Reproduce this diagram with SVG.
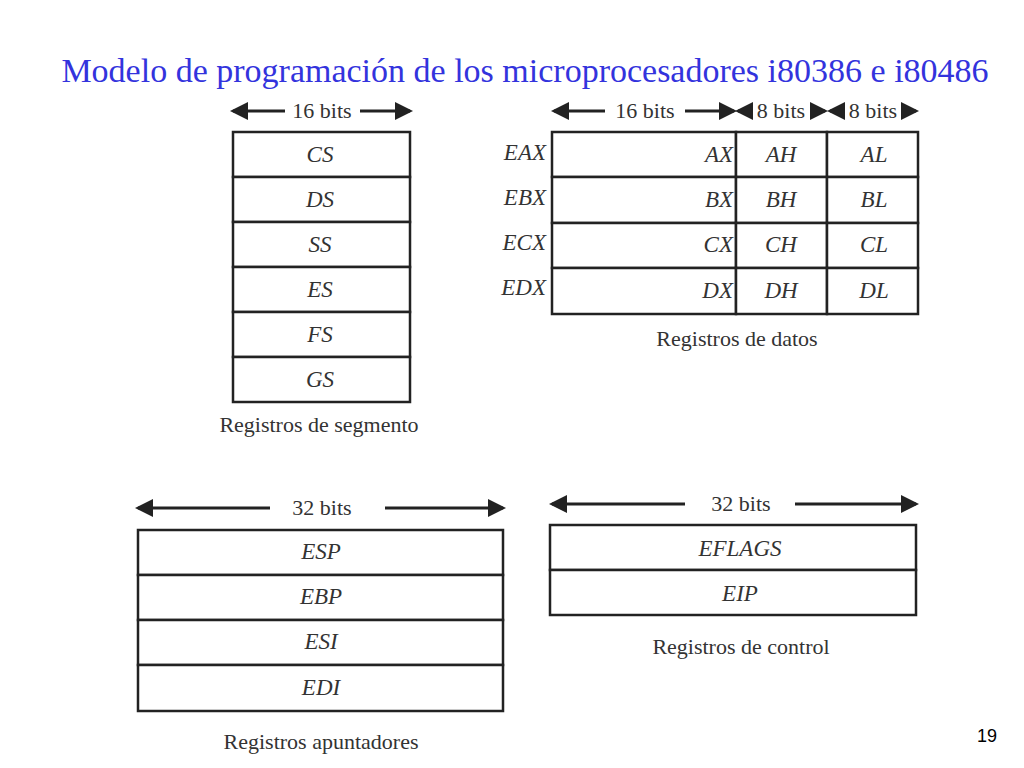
<svg xmlns="http://www.w3.org/2000/svg" width="1024" height="768" viewBox="0 0 1024 768">
<style>
.c{fill:#fff;stroke:#222;stroke-width:2.5}
.l{font-family:"Liberation Serif",serif;font-style:italic;font-size:23px;fill:#333;text-anchor:middle}
.r{font-family:"Liberation Serif",serif;font-style:italic;font-size:23px;fill:#333;text-anchor:end}
.b{font-family:"Liberation Serif",serif;font-size:22px;fill:#333;text-anchor:middle}
.a{stroke:#222;stroke-width:3;marker-end:url(#ah)}
</style>
<defs><marker id="ah" markerWidth="6" markerHeight="6" refX="5" refY="3" orient="auto" markerUnits="strokeWidth"><path d="M0,0L6,3L0,6z" fill="#222"/></marker></defs>
<rect width="1024" height="768" fill="#fff"/>
<text x="525" y="82" font-family="Liberation Serif,serif" font-size="34" fill="#3333dd" text-anchor="middle">Modelo de programación de los microprocesadores i80386 e i80486</text>
<g id="connectors">
<line class="a" x1="285" y1="111" x2="233" y2="111"/><line class="a" x1="360" y1="111" x2="410" y2="111"/>
<line class="a" x1="605" y1="111" x2="554" y2="111"/><line class="a" x1="685" y1="111" x2="734" y2="111"/>
<line class="a" x1="748" y1="111" x2="738" y2="111"/><line class="a" x1="815" y1="111" x2="825" y2="111"/>
<line class="a" x1="840" y1="111" x2="830" y2="111"/><line class="a" x1="905" y1="111" x2="916" y2="111"/>
<line class="a" x1="270" y1="508" x2="138" y2="508"/><line class="a" x1="385" y1="508" x2="503" y2="508"/>
<line class="a" x1="685" y1="504" x2="552" y2="504"/><line class="a" x1="795" y1="504" x2="916" y2="504"/>
</g>
<text class="b" x="322" y="118">16 bits</text>
<text class="b" x="645" y="118">16 bits</text>
<text class="b" x="781" y="118">8 bits</text>
<text class="b" x="873" y="118">8 bits</text>
<text class="b" x="322" y="515">32 bits</text>
<text class="b" x="741" y="511">32 bits</text>
<g id="segmento">
<rect class="c" x="233" y="132" width="177" height="45"/><text class="l" x="320" y="162">CS</text>
<rect class="c" x="233" y="177" width="177" height="45"/><text class="l" x="320" y="207">DS</text>
<rect class="c" x="233" y="222" width="177" height="45"/><text class="l" x="320" y="252">SS</text>
<rect class="c" x="233" y="267" width="177" height="45"/><text class="l" x="320" y="297">ES</text>
<rect class="c" x="233" y="312" width="177" height="45"/><text class="l" x="320" y="342">FS</text>
<rect class="c" x="233" y="357" width="177" height="45"/><text class="l" x="320" y="387">GS</text>
<text class="b" x="319" y="432">Registros de segmento</text>
</g>
<g id="datos">
<rect class="c" x="552" y="132" width="184" height="45"/><rect class="c" x="736" y="132" width="91" height="45"/><rect class="c" x="827" y="132" width="91" height="45"/>
<rect class="c" x="552" y="177" width="184" height="46"/><rect class="c" x="736" y="177" width="91" height="46"/><rect class="c" x="827" y="177" width="91" height="46"/>
<rect class="c" x="552" y="223" width="184" height="45"/><rect class="c" x="736" y="223" width="91" height="45"/><rect class="c" x="827" y="223" width="91" height="45"/>
<rect class="c" x="552" y="268" width="184" height="46"/><rect class="c" x="736" y="268" width="91" height="46"/><rect class="c" x="827" y="268" width="91" height="46"/>
<text class="r" x="546" y="160">EAX</text><text class="r" x="733" y="162">AX</text><text class="l" x="781" y="162">AH</text><text class="l" x="874" y="162">AL</text>
<text class="r" x="546" y="205">EBX</text><text class="r" x="733" y="207">BX</text><text class="l" x="781" y="207">BH</text><text class="l" x="874" y="207">BL</text>
<text class="r" x="546" y="250">ECX</text><text class="r" x="733" y="252">CX</text><text class="l" x="781" y="252">CH</text><text class="l" x="874" y="252">CL</text>
<text class="r" x="546" y="295">EDX</text><text class="r" x="733" y="298">DX</text><text class="l" x="781" y="298">DH</text><text class="l" x="874" y="298">DL</text>
<text class="b" x="737" y="346">Registros de datos</text>
</g>
<g id="apuntadores">
<rect class="c" x="138" y="530" width="365" height="45"/><text class="l" x="321" y="559">ESP</text>
<rect class="c" x="138" y="575" width="365" height="45"/><text class="l" x="321" y="604">EBP</text>
<rect class="c" x="138" y="620" width="365" height="45"/><text class="l" x="321" y="649">ESI</text>
<rect class="c" x="138" y="665" width="365" height="46"/><text class="l" x="321" y="695">EDI</text>
<text class="b" x="321" y="749">Registros apuntadores</text>
</g>
<g id="control">
<rect class="c" x="550" y="525" width="366" height="45"/><text class="l" x="740" y="556">EFLAGS</text>
<rect class="c" x="550" y="570" width="366" height="45"/><text class="l" x="740" y="601">EIP</text>
<text class="b" x="741" y="654">Registros de control</text>
</g>
<text x="987" y="742" font-family="Liberation Sans,sans-serif" font-size="18" fill="#000" text-anchor="middle">19</text>
</svg>
